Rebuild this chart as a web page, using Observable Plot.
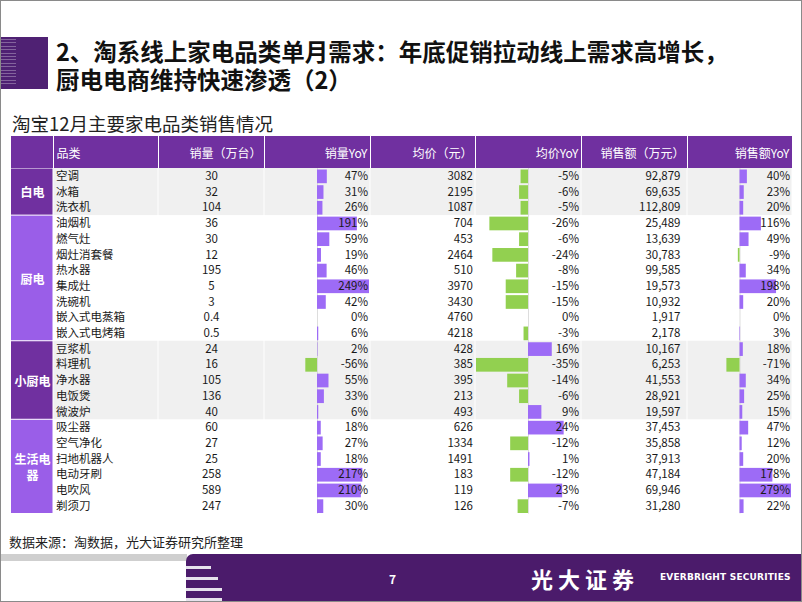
<!DOCTYPE html>
<html><head><meta charset="utf-8">
<script src="https://cdn.jsdelivr.net/npm/d3@7"></script>
<script src="https://cdn.jsdelivr.net/npm/@observablehq/plot@0.6"></script>
<style>
html,body{margin:0;padding:0;background:#fff;}
#slide{position:relative;width:802px;height:602px;box-sizing:border-box;border:1px solid #8a8a8a;overflow:hidden;font-family:'Noto Sans CJK SC','Noto Sans',sans-serif;}
.abs{position:absolute;}
.ttl{position:absolute;left:55px;height:28px;font-size:23.5px;font-weight:bold;line-height:28px;color:#111;white-space:nowrap;overflow:visible;}
.hdr{position:absolute;top:135px;height:32px;background:#7030a0;color:#fff;font-size:12px;display:flex;align-items:center;box-sizing:border-box;white-space:nowrap;}
.col{position:absolute;top:167px;}
</style></head><body><div id="slide"></div>
<script>
// ---------- data ----------
const groups = ["白电","厨电","小厨电","生活电器"];
const groupLabels = ["白电","厨电","小厨电","生活电\n器"];
const groupSizes = [3, 8, 5, 6];
const items = ["空调","冰箱","洗衣机","油烟机","燃气灶","烟灶消套餐","热水器","集成灶","洗碗机","嵌入式电蒸箱","嵌入式电烤箱","豆浆机","料理机","净水器","电饭煲","微波炉","吸尘器","空气净化","扫地机器人","电动牙刷","电吹风","剃须刀"];
const volume = [30,32,104,36,30,12,195,5,3,0.4,0.5,24,16,105,136,40,60,27,25,258,589,247];
const volumeYoY = [47,31,26,191,59,19,46,249,42,0,6,2,-56,55,33,6,18,27,18,217,210,30];
const price = [3082,2195,1087,704,453,2464,510,3970,3430,4760,4218,428,385,395,213,493,626,1334,1491,183,119,126];
const priceYoY = [-5,-6,-5,-26,-6,-24,-8,-15,-15,0,-3,16,-35,-14,-6,9,24,-12,1,-12,23,-7];
const sales = [92879,69635,112809,25489,13639,30783,99585,19573,10932,1917,2178,10167,6253,41553,28921,19597,37453,35858,37913,47184,69946,31280];
const salesYoY = [40,23,20,116,49,-9,34,198,20,0,3,18,-71,34,25,15,47,12,20,178,279,22];
const headers = ["", "品类", "销量（万台）", "销量YoY", "均价（元）", "均价YoY", "销售额（万元）", "销售额YoY"];

// ---------- layout / style ----------
const edges = [10, 52, 157, 263, 369, 474, 580, 686, 791];
const H = 345.5;
const DARK = "#7030a0", LIGHT = "#9a5ee8", GRAY = "#f0f0f0";
const POS = "#9d6bf6", NEG = "#92d050";
const FS = 11.5;

const groupRows = [];
let acc = 0;
groups.forEach((g, k) => { groupRows.push({k, g, label: groupLabels[k], start: acc, n: groupSizes[k]}); acc += groupSizes[k]; });
const groupOf = [];
groupRows.forEach(gr => { for (let j = 0; j < gr.n; j++) groupOf.push(gr.k); });

const rows = items.map((name, i) => ({
  i, name, g: groupOf[i],
  volume: volume[i], volumeYoY: volumeYoY[i], price: price[i], priceYoY: priceYoY[i],
  sales: sales[i], salesYoY: salesYoY[i]
}));

const slide = document.getElementById("slide");
function add(html) { const d = document.createElement("div"); d.innerHTML = html; while (d.firstChild) slide.appendChild(d.firstChild); }

// title block
add(`<div class="abs" style="left:0;top:36px;width:47px;height:52px;background:#4f2173;"></div>`);
add(`<div class="abs" style="left:0;top:38px;width:15px;height:48px;background:repeating-linear-gradient(to bottom, rgba(255,255,255,0.30) 0 1px, transparent 1px 3.4px);"></div>`);
add(`<div class="ttl" style="top:36px;">2、淘系线上家电品类单月需求：年底促销拉动线上需求高增长，</div>`);
add(`<div class="ttl" style="top:64px;">厨电电商维持快速渗透（2）</div>`);
add(`<div class="abs" style="left:11px;top:109px;font-size:18.5px;line-height:26px;color:#222;white-space:nowrap;">淘宝12月主要家电品类销售情况</div>`);

// headers
headers.forEach((h, k) => {
  const left = edges[k] + (k ? 0.5 : 0), w = edges[k + 1] - edges[k] - (k ? 0.5 : 0) - 0.5;
  const just = k === 1 ? "flex-start;padding-left:3px" : "flex-end;padding-right:2px";
  add(`<div class="hdr" style="left:${left}px;width:${w}px;justify-content:${just};">${h}</div>`);
});

function place(svg, k) {
  const d = document.createElement("div");
  d.className = "col";
  d.style.left = edges[k] + "px";
  d.appendChild(svg);
  slide.appendChild(d);
}
const style = {fontFamily: "'Noto Sans CJK SC','Noto Sans',sans-serif", fontSize: FS + "px", background: "transparent", overflow: "visible"};
const yOpt = {domain: [0, rows.length], range: [0, H], axis: null};
const grayGroups = groupRows.filter(d => d.k % 2 === 0);

// group column
{
  const w = edges[1] - edges[0];
  place(Plot.plot({
    width: w, height: H, margin: 0, style,
    x: {domain: [0, 1], range: [0, w], axis: null}, y: yOpt,
    marks: [
      Plot.rect(groupRows, {x1: () => 0, x2: () => 1, y1: "start", y2: d => d.start + d.n,
        fill: d => d.k % 2 === 0 ? DARK : LIGHT, insetTop: 0.5, insetBottom: 0.5, insetRight: 0.5}),
      Plot.text(groupRows, {x: () => 0.5, y: d => d.start + d.n / 2, text: "label", fill: "white",
        fontWeight: "bold", fontSize: 12, lineHeight: 1.35})
    ]
  }), 0);
}

// text columns
const textCols = [
  {k: 1, key: "name", anchor: "start", x: 0, dx: 2.5, fmt: d => d},
  {k: 2, key: "volume", anchor: "middle", x: 0.5, dx: 0, fmt: d => String(d)},
  {k: 4, key: "price", anchor: "end", x: 1, dx: -2.5, fmt: d => String(d)},
  {k: 6, key: "sales", anchor: "end", x: 1, dx: -7, fmt: d3.format(",")}
];
textCols.forEach(c => {
  const w = edges[c.k + 1] - edges[c.k];
  place(Plot.plot({
    width: w, height: H, margin: 0, style,
    x: {domain: [0, 1], range: [0, w], axis: null}, y: yOpt,
    marks: [
      Plot.rect(grayGroups, {x1: () => 0, x2: () => 1, y1: "start", y2: d => d.start + d.n, fill: GRAY, insetLeft: 0.5, insetRight: 0.5}),
      Plot.text(rows, {x: () => c.x, y: d => d.i + 0.5, text: d => c.fmt(d[c.key]), textAnchor: c.anchor, dx: c.dx, fill: "#1a1a1a", fontSize: FS})
    ]
  }), c.k);
});

// data-bar columns
const barCols = [{k: 3, key: "volumeYoY"}, {k: 5, key: "priceYoY"}, {k: 7, key: "salesYoY"}];
barCols.forEach(c => {
  const w = edges[c.k + 1] - edges[c.k];
  const m = d3.max(rows, d => Math.abs(d[c.key]));
  const M = m * w / (w - 2);
  place(Plot.plot({
    width: w, height: H, margin: 0, style,
    x: {domain: [-M, M], range: [0, w], axis: null}, y: yOpt,
    marks: [
      Plot.rect(grayGroups, {x1: () => -M, x2: () => M, y1: "start", y2: d => d.start + d.n, fill: GRAY, insetLeft: 0.5, insetRight: 0.5}),
      Plot.ruleX([0], {stroke: "#cfcfcf", strokeWidth: 0.7}),
      Plot.rect(rows, {x1: () => 0, x2: c.key, y1: "i", y2: d => d.i + 1,
        fill: d => d[c.key] < 0 ? NEG : POS, insetTop: 1.5, insetBottom: 0.5}),
      Plot.text(rows, {x: () => M, y: d => d.i + 0.5, text: d => d[c.key] + "%", textAnchor: "end", dx: -2.5, fill: "#1a1a1a", fontSize: FS})
    ]
  }), c.k);
});

// source
add(`<div class="abs" style="left:8px;top:532px;font-size:13px;line-height:18px;color:#222;white-space:nowrap;">数据来源：淘数据，光大证券研究所整理</div>`);

// footer
add(`<div class="abs" style="left:0;top:553px;width:186px;height:7px;background:#cfcfcf;"></div>`);
add(`<div class="abs" style="left:185px;top:553px;right:0;bottom:0;background:#4b1b6b;border-top-left-radius:7px;"></div>`);
[[565, 25], [576, 32], [587, 36], [597, 36]].forEach(([t, w]) =>
  add(`<div class="abs" style="left:185px;top:${t}px;width:${w}px;height:3px;background:#e6e2ec;"></div>`));
add(`<div class="abs" style="left:388px;top:569px;font-size:12px;font-weight:bold;color:#fff;">7</div>`);
add(`<div class="abs" style="left:530px;top:561px;font-size:22px;font-weight:bold;letter-spacing:5px;color:#fff;white-space:nowrap;">光大证券</div>`);
add(`<div class="abs" style="left:659px;top:571px;font-size:9px;font-weight:bold;font-family:'DejaVu Sans',sans-serif;letter-spacing:0.2px;color:#fff;white-space:nowrap;">EVERBRIGHT SECURITIES</div>`);
</script></body></html>
